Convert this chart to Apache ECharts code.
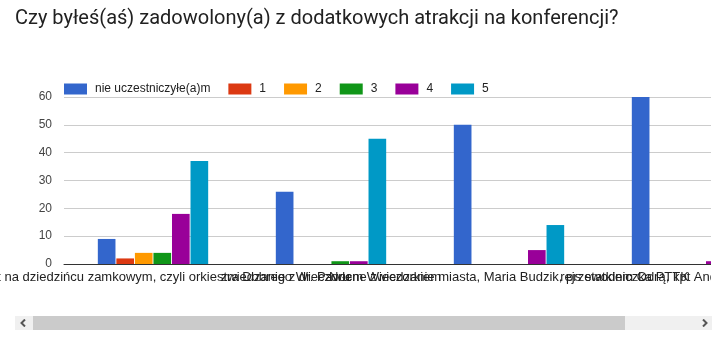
<!DOCTYPE html>
<html>
<head>
<meta charset="utf-8">
<script src="https://cdn.jsdelivr.net/npm/echarts@6/dist/echarts.min.js"></script>
<style>
  html, body { margin: 0; padding: 0; background: #fff; }
  body { width: 727px; height: 346px; position: relative; overflow: hidden; }
  #viewport { position: absolute; left: 0; top: 0; width: 711px; height: 300px; overflow: hidden; }
  #chart { position: absolute; left: 0; top: 0; width: 840px; height: 300px; }
  #track { position: absolute; left: 15px; top: 316px; width: 697px; height: 14px; background: #f0f0f0; }
  #thumb { position: absolute; left: 18px; top: 0; width: 592px; height: 14px; background: #cbcbcb; }
  .arrow { position: absolute; top: 3px; width: 8px; height: 8px; }
</style>
</head>
<body>
<div id="viewport"><div id="chart"></div></div>
<div id="track">
  <div id="thumb"></div>
  <svg class="arrow" style="left:4px" viewBox="0 0 8 8"><polyline points="6,0.5 2.5,4 6,7.5" fill="none" stroke="#555" stroke-width="2"/></svg>
  <svg class="arrow" style="left:686px" viewBox="0 0 8 8"><polyline points="2,0.5 5.5,4 2,7.5" fill="none" stroke="#555" stroke-width="2"/></svg>
</div>
<script>
// Survey answers: satisfaction with the extra conference events
const titleText = 'Czy byłeś(aś) zadowolony(a) z dodatkowych atrakcji na konferencji?';
const categories = [
  'Koncert na dziedzińcu zamkowym, czyli orkiestra Dobrego Wieczoru',
  'zwiedzanie z dr. Pawłem Wieczorkiem',
  'Nocne zwiedzanie miasta, Maria Budzik, przewodniczka PTTK',
  'rejs statkiem Odrą, kpt Andrzej Nowakowski'
];
const seriesNames = ['nie uczestniczyłe(a)m', '1', '2', '3', '4', '5'];
const notAttended = [9, 26, 50, 60];
const score1 = [2, 0, 0, 0];
const score2 = [4, 0, 0, 0];
const score3 = [4, 1, 0, 0];
const score4 = [18, 1, 5, 1];
const score5 = [37, 45, 14, 12];
const yTicks = [0, 10, 20, 30, 40, 50, 60];

const seriesValues = [notAttended, score1, score2, score3, score4, score5];
const colors = ['#3366cc', '#dc3912', '#ff9900', '#109618', '#990099', '#0099c6'];

const chart = echarts.init(document.getElementById('chart'), null, { renderer: 'canvas' });
chart.setOption({
  animation: false,
  color: colors,
  title: {
    text: titleText,
    left: 10,
    top: 4,
    textStyle: { fontFamily: 'Roboto', fontSize: 20, fontWeight: 'normal', color: '#212121' }
  },
  legend: {
    left: 59,
    top: 78,
    itemWidth: 23,
    itemHeight: 11,
    itemGap: 18,
    icon: 'rect',
    data: seriesNames,
    textStyle: { fontFamily: 'Liberation Sans, Arial', fontSize: 12, color: '#222', padding: [0, 0, 0, 3] }
  },
  grid: { left: 64, top: 97, width: 712, height: 167, containLabel: false, outerBoundsMode: 'none' },
  xAxis: {
    type: 'category',
    data: categories,
    axisLine: { lineStyle: { color: '#333', width: 1 } },
    axisTick: { show: false },
    axisLabel: {
      interval: 0,
      margin: 7,
      hideOverlap: false,
      fontFamily: 'Liberation Sans, Arial',
      fontSize: 13,
      color: '#222'
    }
  },
  yAxis: {
    type: 'value',
    min: yTicks[0],
    max: yTicks[yTicks.length - 1],
    interval: yTicks[1] - yTicks[0],
    axisLine: { show: false },
    axisTick: { show: false },
    axisLabel: { margin: 12, fontFamily: 'Liberation Sans, Arial', fontSize: 12, color: '#444' },
    splitLine: { lineStyle: { color: '#cccccc', width: 1 } }
  },
  series: seriesNames.map((name, i) => ({
    name: name,
    type: 'bar',
    data: seriesValues[i],
    barCategoryGap: '38%',
    barGap: '5%',
    itemStyle: { color: colors[i] }
  }))
});
</script>
</body>
</html>
